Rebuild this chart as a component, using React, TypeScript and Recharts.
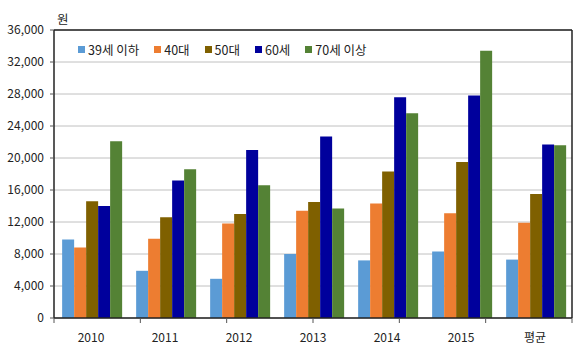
import React from "react";
import { BarChart, Bar, XAxis, YAxis, CartesianGrid } from "recharts";

const categories = ["2010", "2011", "2012", "2013", "2014", "2015", "평균"];
const seriesNames = ["39세 이하", "40대", "50대", "60세", "70세 이상"];
const under39 = [9800, 5900, 4900, 8000, 7200, 8300, 7300];
const age40s = [8800, 9900, 11800, 13400, 14300, 13100, 11900];
const age50s = [14600, 12600, 13000, 14500, 18300, 19500, 15500];
const age60 = [14000, 17200, 21000, 22700, 27600, 27800, 21700];
const over70 = [22100, 18600, 16600, 13700, 25600, 33400, 21600];
const yTicks = [0, 4000, 8000, 12000, 16000, 20000, 24000, 28000, 32000, 36000];
const boundaryTicks = [0, 1, 2, 3, 4, 5, 6, 7];

const COLORS = ["#5b9bd5", "#ed7d31", "#7f6000", "#00009c", "#548235"];
const KEYS = ["s0", "s1", "s2", "s3", "s4"];
const FONT = "'Noto Sans CJK KR', 'Noto Sans', sans-serif";

const data = categories.map((name, i) => ({
  name,
  s0: under39[i],
  s1: age40s[i],
  s2: age50s[i],
  s3: age60[i],
  s4: over70[i],
}));

function LegendRow() {
  return (
    <div style={{ display: "flex", gap: 15, fontFamily: FONT, fontSize: 12.5, color: "#222" }}>
      {seriesNames.map((n, i) => (
        <div key={n} style={{ display: "flex", alignItems: "center" }}>
          <span style={{ width: 7, height: 7, background: COLORS[i], marginRight: 3, display: "inline-block" }} />
          {n}
        </div>
      ))}
    </div>
  );
}

export default function App() {
  return (
    <div style={{ position: "relative", width: 580, height: 354, background: "#fff" }}>
      <style>{`body { margin: 0; }`}</style>
      <BarChart
        width={580}
        height={354}
        data={data}
        margin={{ top: 29, right: 7, left: 0, bottom: 4 }}
        barCategoryGap="11%"
        barGap={0}
      >
        <CartesianGrid vertical={false} stroke="#c0c0c0" yAxisId="left" xAxisId="b" />
        <XAxis
          xAxisId="a"
          type="number"
          domain={[0, 7]}
          ticks={boundaryTicks}
          tickFormatter={() => ""}
          height={1}
          axisLine={{ stroke: "#222", strokeWidth: 1.5 }}
          tickLine={{ stroke: "#555" }}
          tickSize={5}
        />
        <XAxis
          xAxisId="b"
          dataKey="name"
          height={31}
          axisLine={false}
          tickLine={false}
          tick={{ fontSize: 12, fill: "#222", fontFamily: FONT }}
          tickMargin={8}
        />
        <XAxis
          xAxisId="c"
          orientation="top"
          type="number"
          domain={[0, 1]}
          height={1}
          tick={false}
          tickLine={false}
          axisLine={{ stroke: "#222", strokeWidth: 1.5 }}
        />
        <YAxis
          yAxisId="left"
          domain={[0, 36000]}
          ticks={yTicks}
          tickFormatter={(v: number) => v.toLocaleString("en-US")}
          width={54}
          axisLine={{ stroke: "#222", strokeWidth: 1.5 }}
          tickLine={{ stroke: "#555" }}
          tickSize={4}
          tickMargin={6}
          tick={{ fontSize: 12, fill: "#222", fontFamily: FONT }}
          interval={0}
        />
        <YAxis
          yAxisId="right"
          orientation="right"
          domain={[0, 1]}
          width={1}
          tick={false}
          tickLine={false}
          axisLine={{ stroke: "#222", strokeWidth: 1.5 }}
        />
        {KEYS.map((k, i) => (
          <Bar
            key={k}
            dataKey={k}
            name={seriesNames[i]}
            fill={COLORS[i]}
            xAxisId="b"
            yAxisId="left"
            isAnimationActive={false}
          />
        ))}
      </BarChart>
      <div style={{ position: "absolute", left: 57, top: 9, fontFamily: FONT, fontSize: 12.5, color: "#222" }}>원</div>
      <div style={{ position: "absolute", left: 78, top: 40 }}>
        <LegendRow />
      </div>
    </div>
  );
}
